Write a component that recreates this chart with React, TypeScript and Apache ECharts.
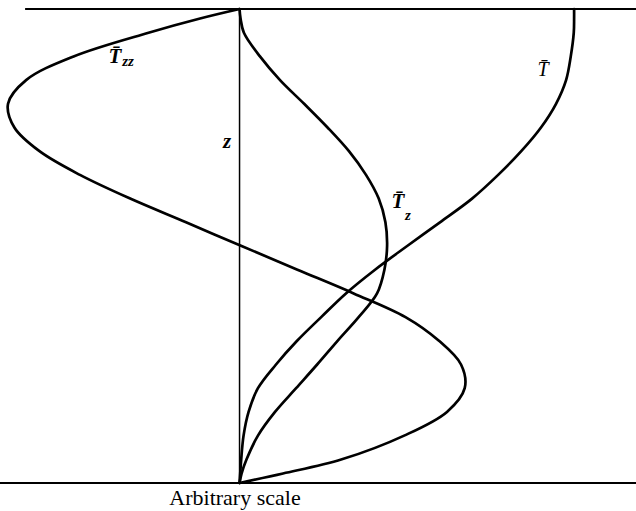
import React, { useEffect, useRef } from "react";
import * as echarts from "echarts";

// Height levels z (0 = bottom boundary, 1 = top boundary)
const zLevels = [0, 0.02, 0.05, 0.1, 0.15, 0.2, 0.25, 0.3, 0.35, 0.4, 0.45, 0.5, 0.55, 0.6, 0.65, 0.7, 0.75, 0.8, 0.85, 0.9, 0.95, 0.98, 1.0];

// Mean temperature profile T̄ (arbitrary scale)
const tMean = [0, 0.002, 0.005, 0.012, 0.027, 0.055, 0.109, 0.172, 0.244, 0.318, 0.405, 0.501, 0.599, 0.695, 0.773, 0.842, 0.901, 0.946, 0.976, 0.99, 0.999, 1.0, 1.0];

// First derivative T̄z
const tMeanZ = [0, 0.006, 0.021, 0.055, 0.106, 0.169, 0.232, 0.293, 0.356, 0.411, 0.433, 0.441, 0.436, 0.416, 0.378, 0.327, 0.263, 0.193, 0.121, 0.061, 0.013, 0.003, 0];

// Second derivative T̄zz
const tMeanZZ = [0, 0.13, 0.306, 0.492, 0.62, 0.673, 0.662, 0.596, 0.496, 0.341, 0.173, 0.006, -0.16, -0.327, -0.477, -0.598, -0.673, -0.692, -0.638, -0.496, -0.272, -0.118, 0];

const X_MIN = -0.716;
const X_MAX = 1.185;
const TOP_LINE_START = -0.641;

const SERIF = "'Liberation Serif', 'Times New Roman', serif";

function profile(values: number[]): number[][] {
  return zLevels.map((z, i) => [values[i], z]);
}

// Centripetal Catmull-Rom spline through screen points, as SVG path data
function splinePath(pts: number[][]): string {
  const n = pts.length;
  const dist = (a: number[], b: number[]) => Math.hypot(b[0] - a[0], b[1] - a[1]);
  let d = `M${pts[0][0]},${pts[0][1]}`;
  for (let i = 0; i < n - 1; i++) {
    const p0 = i > 0 ? pts[i - 1] : pts[i];
    const p1 = pts[i];
    const p2 = pts[i + 1];
    const p3 = i + 2 < n ? pts[i + 2] : pts[i + 1];
    const l01 = dist(p0, p1), l12 = dist(p1, p2), l23 = dist(p2, p3);
    const l01a = Math.sqrt(l01), l12a = Math.sqrt(l12), l23a = Math.sqrt(l23);
    let c1x = p1[0], c1y = p1[1], c2x = p2[0], c2y = p2[1];
    if (l01a > 1e-6) {
      const a = 2 * l01 + 3 * l01a * l12a + l12;
      const m = 3 * l01a * (l01a + l12a);
      c1x = (p1[0] * a - p0[0] * l12 + p2[0] * l01) / m;
      c1y = (p1[1] * a - p0[1] * l12 + p2[1] * l01) / m;
    }
    if (l23a > 1e-6) {
      const b = 2 * l23 + 3 * l23a * l12a + l12;
      const m = 3 * l23a * (l23a + l12a);
      c2x = (p2[0] * b + p1[0] * l23 - p3[0] * l12) / m;
      c2y = (p2[1] * b + p1[1] * l23 - p3[1] * l12) / m;
    }
    d += ` C${c1x},${c1y} ${c2x},${c2y} ${p2[0]},${p2[1]}`;
  }
  return d;
}

export default function App() {
  const ref = useRef<HTMLDivElement>(null);

  useEffect(() => {
    if (!ref.current) return;
    const chart = echarts.init(ref.current, undefined, { renderer: "svg" });

    const curve = (name: string, values: number[]) => ({
      name,
      type: "custom",
      coordinateSystem: "cartesian2d",
      data: profile(values),
      encode: { x: 0, y: 1 },
      clip: false,
      silent: true,
      z: 3,
      renderItem: (params: any, api: any) => {
        if (params.dataIndex !== 0) return null;
        const pts = profile(values).map((p) => api.coord(p));
        return {
          type: "path",
          shape: { pathData: splinePath(pts) },
          style: {
            fill: "none",
            stroke: "#000",
            lineWidth: 2.7,
            lineJoin: "round",
            lineCap: "round",
          },
        };
      },
    });

    const rule = (data: number[][], width: number) => ({
      type: "line",
      data,
      symbol: "none",
      silent: true,
      lineStyle: { color: "#000", width },
      z: 2,
    });

    const label = (text: string, x: number, y: number, font: string) => ({
      type: "text",
      x,
      y,
      style: {
        text,
        font,
        fill: "#000",
        align: "center",
        verticalAlign: "middle",
      },
    });

    chart.setOption({
      animation: false,
      backgroundColor: "#fff",
      grid: { left: 0, right: 0, top: 9, bottom: 28 },
      xAxis: {
        type: "value",
        min: X_MIN,
        max: X_MAX,
        axisLine: { show: true, onZero: false, lineStyle: { color: "#000", width: 2 } },
        axisTick: { show: false },
        axisLabel: { show: false },
        splitLine: { show: false },
      },
      yAxis: {
        type: "value",
        min: 0,
        max: 1,
        axisLine: { show: false },
        axisTick: { show: false },
        axisLabel: { show: false },
        splitLine: { show: false },
      },
      series: [
        // upper boundary and the z axis
        rule([[TOP_LINE_START, 1], [X_MAX, 1]], 2),
        rule([[0, 0], [0, 1]], 1.5),
        curve("T̄", tMean),
        curve("T̄z", tMeanZ),
        curve("T̄zz", tMeanZZ),
      ],
      graphic: [
        label("Arbitrary scale", 235, 497, `22px ${SERIF}`),
        label("z", 227, 141, `italic bold 21px ${SERIF}`),
        label("T\u0304", 543, 69, `italic 20px ${SERIF}`),
        label("T\u0304", 115, 56, `italic bold 21px ${SERIF}`),
        label("zz", 128, 61, `italic bold 15px ${SERIF}`),
        label("T\u0304", 398, 201, `italic bold 21px ${SERIF}`),
        label("z", 408, 215, `italic bold 15px ${SERIF}`),
      ],
    });

    return () => chart.dispose();
  }, []);

  return (
    <div
      ref={ref}
      style={{ position: "fixed", left: 0, top: 0, width: 636, height: 511 }}
    />
  );
}
